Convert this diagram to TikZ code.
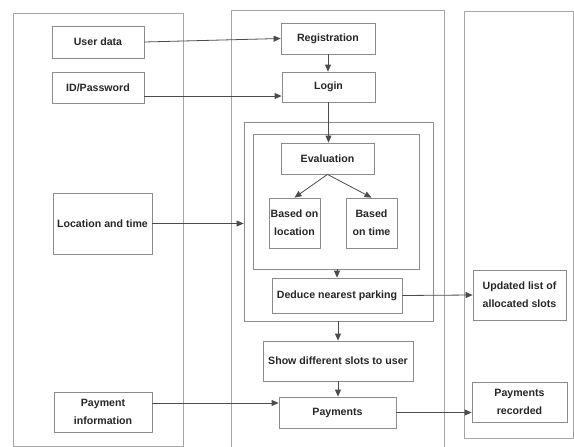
\documentclass[tikz,border=0pt]{standalone}
\usepackage{fontspec}
\setmainfont{Liberation Sans}
\usetikzlibrary{positioning, calc, arrows.meta}

\begin{document}
\begin{tikzpicture}[x=1pt, y=-1pt, >={Triangle[length=7pt, width=6pt]},
step box/.style= {rectangle, align=center, draw=black!45, line width=0.8pt, inner sep=1pt, text=black!85, font=\bfseries\fontsize{10.6}{18}\selectfont},
lane/.style= {draw=black!35, line width=0.8pt},
frame/.style= {rectangle, draw=black!45, line width=0.8pt},
link/.style= {->, draw=black!70, line width=0.8pt} ]
\useasboundingbox (0,0) rectangle (574,447);
% swim lanes
\draw[lane] (13,13) rectangle (183,446);
\draw[lane] (231,447) -- (231,10) -- (444,10) -- (444,447);
\draw[lane] (464,11) rectangle (573,438);
% frames round the evaluation
\node (O) [frame, minimum width=189pt, minimum height=199pt] at (338.5,221.5) {};
\node (N) [frame, minimum width=166pt, minimum height=135pt] at (336,201.5) {};
% user side
\node (UD) [step box, minimum width=92pt, minimum height=32pt] at (98,42) {User data};
\node (ID) [step box, minimum width=92pt, minimum height=31pt] at (98,87.5) {ID/Password};
\node (LT) [step box, minimum width=99pt, minimum height=61pt] at (102.5,223.5) {Location and time};
\node (PI) [step box, minimum width=98pt, minimum height=40pt] at (103,412) {Payment\\information};
% system side
\node (R) [step box, minimum width=94pt, minimum height=31pt] at (328,38.5) {Registration};
\node (L) [step box, minimum width=93pt, minimum height=30pt] at (328.5,87) {Login};
\node (E) [step box, minimum width=93pt, minimum height=31pt] at (327.5,158.5) {Evaluation};
\node (BL) [step box, minimum width=51pt, minimum height=50pt] at (294.5,223) {Based on\\location};
\node (BT) [step box, minimum width=51pt, minimum height=50pt] at (371.5,223) {Based\\on time};
\node (D) [step box, minimum width=130pt, minimum height=35pt] at (337,295.5) {Deduce nearest parking};
\node (S) [step box, minimum width=150pt, minimum height=40pt] at (338,361) {Show different slots to user};
\node (P) [step box, minimum width=117pt, minimum height=31pt] at (337.5,412.5) {Payments};
% records
\node (U) [step box, minimum width=93pt, minimum height=50pt] at (519.5,295) {Updated list of\\allocated slots};
\node (PR) [step box, minimum width=95pt, minimum height=40pt] at (519.5,402) {Payments\\recorded};
\path (UD.east) edge[link] (R.west);
\path ([yshift=-8.5pt]ID.east) edge[link] ([yshift=-8.5pt]ID.east -| L.west);
\path (LT.east) edge[link] (LT.east -| O.west);
\path ([yshift=9pt]PI.east) edge[link] ([yshift=9pt]PI.east -| P.west);
\path (R.south) edge[link] (R.south |- L.north);
\path (L.south) edge[link] (L.south |- E.north);
\path (E.south) edge[link] (BL.north);
\path (E.south) edge[link] (BT.north);
\path (D.north |- N.south) edge[link] (D.north);
\path (D.east) edge[link] (U.west);
\path (S.north |- O.south) edge[link] (S.north);
\path (S.south) edge[link] (S.south |- P.north);
\path (P.east) edge[link] (P.east -| PR.west);
\end{tikzpicture}
\end{document}
